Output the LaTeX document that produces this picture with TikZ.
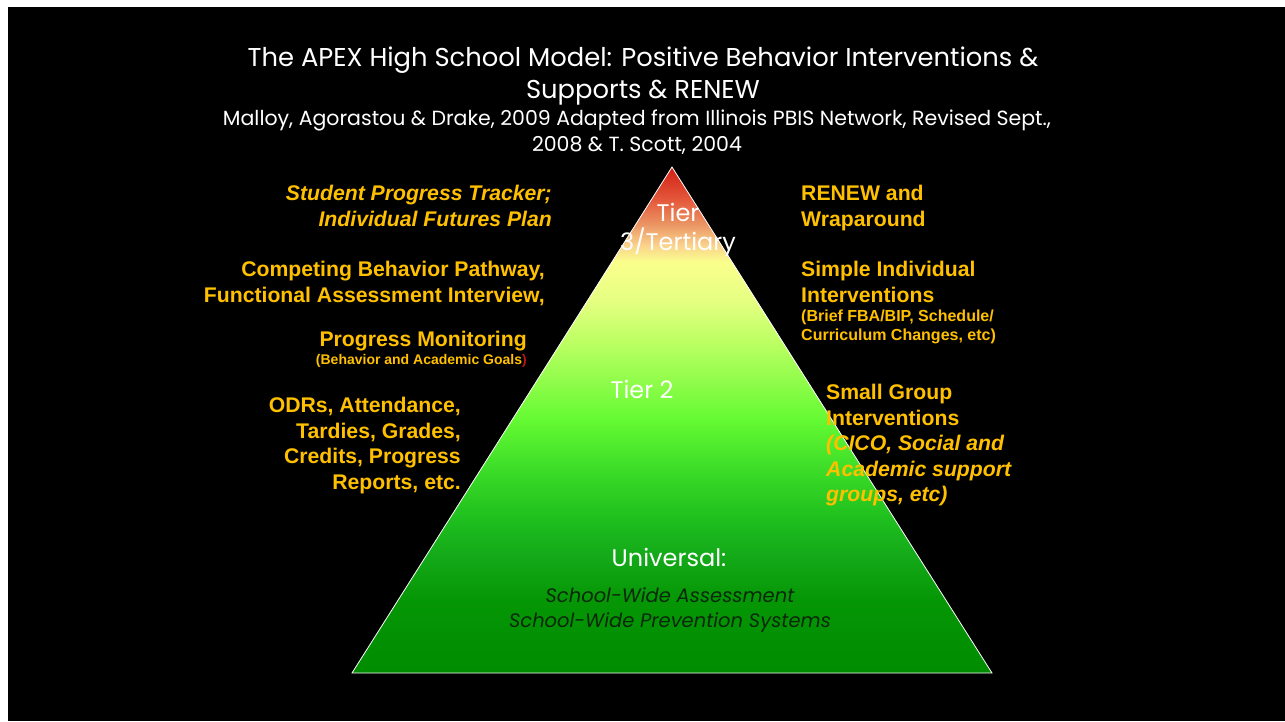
\documentclass[tikz,border=0pt]{standalone}
\usepackage{fontspec}
\setmainfont{Liberation Sans}
\newfontfamily\gothic{Poppins}
\definecolor{gold}{RGB}{255,192,0}
\definecolor{parenred}{RGB}{190,20,20}
\definecolor{darktxt}{RGB}{10,40,10}
%% pyramid colours, bottom to top
\definecolor{pa}{RGB}{0,140,0}
\definecolor{pb}{RGB}{5,150,5}
\definecolor{pc}{RGB}{20,170,25}
\definecolor{pd}{RGB}{30,190,30}
\definecolor{pe}{RGB}{60,220,40}
\definecolor{pf}{RGB}{100,250,50}
\definecolor{pg}{RGB}{190,255,100}
\definecolor{ph}{RGB}{230,255,130}
\definecolor{pi}{RGB}{250,255,140}
\definecolor{pj}{RGB}{250,210,140}
\definecolor{pk}{RGB}{235,150,100}
\definecolor{pl}{RGB}{228,90,60}
\definecolor{pm}{RGB}{210,30,20}
\pgfdeclareverticalshading{pyramid}{100bp}{color(0bp)=(pa); color(25bp)=(pa);
  color(32.2bp)=(pb); color(36.7bp)=(pc); color(40.1bp)=(pd); color(45.1bp)=(pe);
  color(50bp)=(pf); color(57.9bp)=(pg); color(61.9bp)=(ph); color(65.6bp)=(pi);
  color(67.3bp)=(pj); color(69.3bp)=(pk); color(71.7bp)=(pl); color(75bp)=(pm);
  color(100bp)=(pm)}
\tikzset{
  goldtxt/.style={text=gold, inner sep=0pt, font=\bfseries\fontsize{21.2}{25.5}\selectfont},
  goldsmall/.style={text=gold, inner sep=0pt, font=\bfseries\fontsize{14}{19}\selectfont},
  headtxt/.style={text=white, inner sep=0pt, align=center},
  tiertxt/.style={text=white, inner sep=0pt, align=center, font=\gothic\fontsize{24}{29}\selectfont},
}
\begin{document}
\begin{tikzpicture}[x=1pt,y=-1pt]
  \useasboundingbox (0,0) rectangle (1285,721);
  \fill[white] (0,0) rectangle (1285,721);
  \fill[black] (8,7) rectangle (1285,721);
  %% heading
  \node[headtxt, anchor=north, font=\gothic\fontsize{25.8}{32}\selectfont] (title) at (643,47)
    {The APEX High School Model: Positive Behavior Interventions \&\\Supports \& RENEW};
  \node[headtxt, anchor=north, font=\gothic\fontsize{20.5}{26}\selectfont] (credit) at (637,110)
    {Malloy, Agorastou \& Drake, 2009 Adapted from Illinois PBIS Network, Revised Sept.,\\2008 \& T. Scott, 2004};
  %% pyramid
  \coordinate (apex) at (672,167);
  \coordinate (bl) at (352,673);
  \coordinate (br) at (992,673);
  \shade[shading=pyramid] (apex) -- (bl) -- (br) -- cycle;
  \draw[white, line width=0.8pt, line join=miter] (apex) -- (bl) -- (br) -- cycle;
  \node[tiertxt] (tier3) at (678,230) {Tier\\3/Tertiary};
  \node[tiertxt] (tier2) at (642,389) {Tier 2};
  \node[tiertxt] (univ) at (669,557) {Universal:};
  \node[headtxt, text=darktxt, font=\gothic\itshape\fontsize{19.5}{25}\selectfont] (univsub) at (670,610)
    {School-Wide Assessment\\School-Wide Prevention Systems};
  %% left column
  \node[goldtxt, anchor=north east, align=right, font=\bfseries\itshape\fontsize{21.2}{25.5}\selectfont] (tracker) at (552,185)
    {Student Progress Tracker;\\Individual Futures Plan};
  \node[goldtxt, anchor=north east, align=right] (pathway) at (545,261)
    {Competing Behavior Pathway,\\Functional Assessment Interview,};
  \node[goldtxt, anchor=north east] (monitor) at (527,331) {Progress Monitoring};
  \node[goldsmall, anchor=north east] (goals) at (527,354)
    {(Behavior and Academic Goals{\color{parenred})}};
  \node[goldtxt, anchor=north east, align=right] (odrs) at (461,397)
    {ODRs, Attendance,\\Tardies, Grades,\\Credits, Progress\\Reports, etc.};
  %% right column
  \node[goldtxt, anchor=north west, align=left] (renew) at (801,185)
    {RENEW and\\Wraparound};
  \node[goldtxt, anchor=north west, align=left] (simple) at (801,261)
    {Simple Individual\\Interventions};
  \node[goldsmall, anchor=north west, align=left, font=\bfseries\fontsize{16}{19}\selectfont] (brief) at (801,310)
    {(Brief FBA/BIP, Schedule/\\Curriculum Changes, etc)};
  \node[goldtxt, anchor=north west, align=left] (small) at (826,384)
    {Small Group\\Interventions\\\itshape(CICO, Social and\\\itshape Academic support\\\itshape groups, etc)};
\end{tikzpicture}
\end{document}
